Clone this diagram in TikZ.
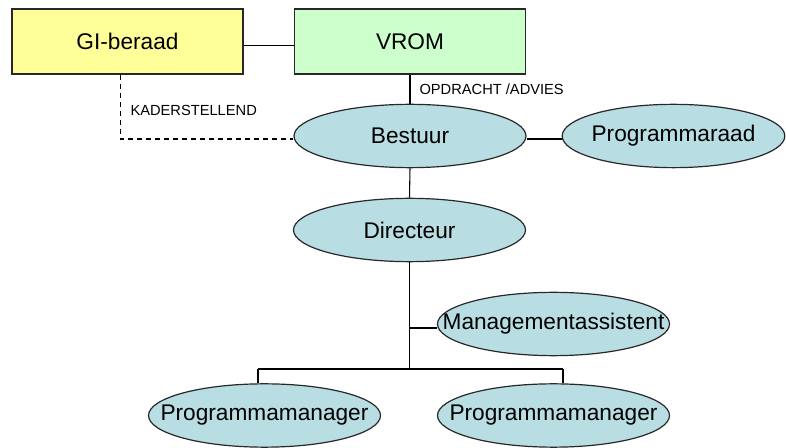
\documentclass[tikz,border=0pt]{standalone}
\usepackage{fontspec}
\setmainfont{Liberation Sans}
\usetikzlibrary{shapes.geometric}

\begin{document}
\begin{tikzpicture}[x=0.75pt,y=0.75pt,yscale=-1,xscale=1,
	line width=0.8pt,
	box/.style={draw={rgb, 255:red, 40; green, 40; blue, 40 },line width=0.9pt,minimum width=173.25pt,minimum height=48.75pt,inner sep=0pt,font=\fontsize{17}{20}\selectfont},
	oval/.style={ellipse,draw={rgb, 255:red, 40; green, 40; blue, 40 },line width=0.9pt,fill={rgb, 255:red, 184; green, 222; blue, 227 },minimum width=174pt,minimum height=47.5pt,inner xsep=-30pt,inner ysep=-12pt,font=\fontsize{17}{20}\selectfont},
	tag/.style={anchor=west,inner sep=0pt,font=\fontsize{11}{13}\selectfont}]
	\useasboundingbox (0,0) rectangle (786,448);
	
	%Shape: Rectangle
	\draw (127.5,41.5) node (gi) [box,fill={rgb, 255:red, 255; green, 255; blue, 153 }] {GI-beraad};
	%Shape: Rectangle
	\draw (410,41.5) node (vrom) [box,fill={rgb, 255:red, 204; green, 255; blue, 204 }] {VROM};
	%Shape: Ellipse
	\draw (410,136) node (bestuur) [oval] {Bestuur};
	%Shape: Ellipse
	\draw (673.5,136) node (raad) [oval,minimum width=167pt] {Programmaraad};
	%Shape: Ellipse
	\draw (409.5,230) node (directeur) [oval] {Directeur};
	%Shape: Ellipse
	\draw (553.5,324) node (assistent) [oval] {Managementassistent};
	%Shape: Ellipse
	\draw (264.5,415.5) node (managerA) [oval] {Programmamanager};
	%Shape: Ellipse
	\draw (553.5,415.5) node (managerB) [oval] {Programmamanager};
	
	\coordinate (bus) at (409.5,369);
	\coordinate (busL) at (258,369);
	\coordinate (busR) at (563,369);
	
	%Straight Lines
	\draw ([yshift=2.8pt]gi.east) -- ([yshift=2.8pt]vrom.west);
	\draw (vrom.south) -- (bestuur.north);
	\draw ([yshift=2.25pt]bestuur.east) -- ([yshift=2.25pt]raad.west);
	\draw (bestuur.south) -- (directeur.north);
	\draw (directeur.south) -- (bus);
	\draw ([yshift=3pt]assistent.west -| bus) -- ([yshift=3pt]assistent.west);
	\draw (busL) -- (busR);
	\draw (busL) -- (busL |- managerA.north);
	\draw (busR) -- (busR |- managerB.north);
	%Dashed Lines
	\draw [dash pattern={on 3.75pt off 3pt}] ([xshift=-5.25pt]gi.south) |- ([yshift=2.25pt]bestuur.west);
	
	% Text Node
	\draw (130,110) node (kader) [tag] {KADERSTELLEND};
	% Text Node
	\draw (419,89) node (opdracht) [tag] {OPDRACHT /ADVIES};
	
\end{tikzpicture}
\end{document}
